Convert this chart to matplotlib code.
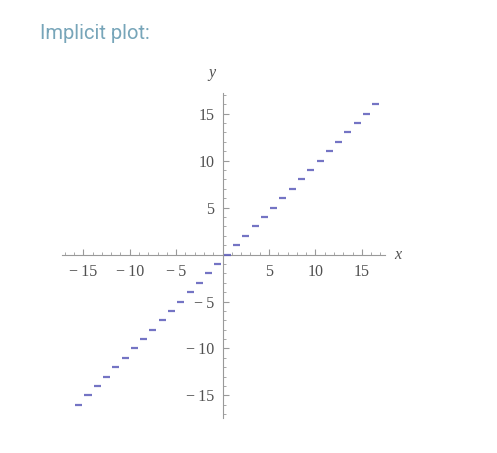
""" Implicit plot of a floor-like staircase drawn as short horizontal
    dashes on Mathematica-style axes crossing at the origin """

import matplotlib.pyplot as plt
import matplotlib as mpl
from matplotlib.ticker import MultipleLocator, FixedLocator, FixedFormatter

# Step levels of the staircase (one dash per integer level)
steps = [-16, -15, -14, -13, -12, -11, -10, -9, -8, -7, -6, -5, -4, -3,
         -2, -1, 0, 1, 2, 3, 4, 5, 6, 7, 8, 9, 10, 11, 12, 13, 14, 15, 16]
# Each dash runs from x = level to x = level + 1
seg_start = steps
seg_end = [s + 1 for s in steps]
x_ticks = [-15, -10, -5, 5, 10, 15]
y_ticks = [-15, -10, -5, 5, 10, 15]
x_range = (-17.3, 17.5)
y_range = (-17.4, 17.2)

title_colour = '#77a5b9'
dash_colour = '#5c5cba'
axis_colour = '#9a9a9a'
label_colour = '#505050'
trim = 0.12
serif = ['Liberation Serif', 'DejaVu Serif']


def tick_text(value: int) -> str:
    """ Mathematica-style label with a spaced-out minus sign """
    return f'\u2212\u2009{-value}' if value < 0 else str(value)


fig = plt.figure(figsize=(4.97, 4.53), dpi=100)
fig.text(0.08, 0.927, 'Implicit plot:', fontsize=14.5, color=title_colour,
         family=['Roboto', 'DejaVu Sans'], va='center', ha='left')

ax = fig.add_axes([62 / 497, 35 / 453, 323 / 497, 325 / 453])
ax.hlines(steps, [s + trim for s in seg_start], [e - trim for e in seg_end],
          colors=dash_colour, linewidth=1.6, alpha=0.85, zorder=3)

ax.set_xlim(x_range)
ax.set_ylim(y_range)
for side in ('top', 'right'):
    ax.spines[side].set_visible(False)
for side in ('left', 'bottom'):
    ax.spines[side].set_position(('data', 0))
    ax.spines[side].set_color(axis_colour)
    ax.spines[side].set_linewidth(0.8)

ax.xaxis.set_major_locator(FixedLocator(x_ticks))
ax.yaxis.set_major_locator(FixedLocator(y_ticks))
ax.xaxis.set_major_formatter(FixedFormatter([tick_text(v) for v in x_ticks]))
ax.yaxis.set_major_formatter(FixedFormatter([tick_text(v) for v in y_ticks]))
ax.xaxis.set_minor_locator(MultipleLocator(1))
ax.yaxis.set_minor_locator(MultipleLocator(1))
ax.tick_params(which='major', direction='in', length=4, width=0.8,
               color=axis_colour, labelcolor=label_colour, labelsize=11.5)
ax.tick_params(axis='x', which='major', pad=7)
ax.tick_params(axis='y', which='major', pad=6)
ax.tick_params(which='minor', direction='in', length=2, width=0.6,
               color=axis_colour)
for lab in ax.get_xticklabels() + ax.get_yticklabels():
    lab.set_family(serif)

ax.text(18.9, 0, 'x', fontsize=11.5, style='italic', color=label_colour,
        family=serif, va='center', ha='center')
ax.text(-1.2, 19.3, 'y', fontsize=11.5, style='italic', color=label_colour,
        family=serif, va='center', ha='center', clip_on=False)
ax.patch.set_visible(False)

fig.savefig('out.png', dpi=100)
